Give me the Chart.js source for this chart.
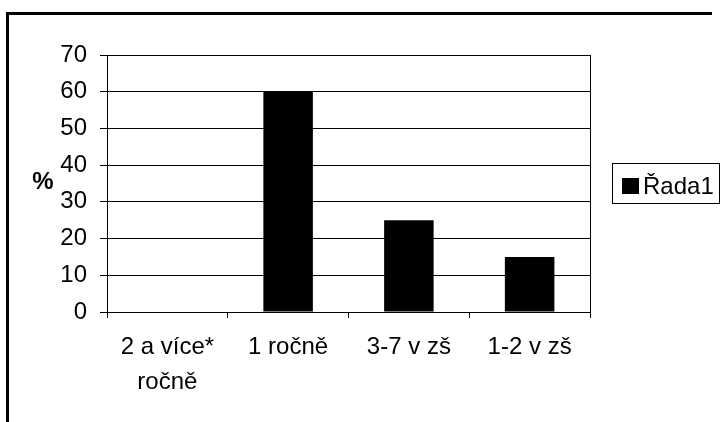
<!DOCTYPE html>
<html>
<head>
<meta charset="utf-8">
<script src="https://cdn.jsdelivr.net/npm/chart.js@4"></script>
<style>
  html, body { margin: 0; padding: 0; background: #fff; }
  #wrap { width: 725px; height: 422px; position: relative; }
</style>
</head>
<body>
<div id="wrap"><canvas id="chart" width="725" height="422"></canvas></div>
<script>
const categories = [['2 a více*', 'ročně'], '1 ročně', '3-7 v zš', '1-2 v zš'];
const values = [0, 60, 25, 15];
const seriesName = 'Řada1';
const yTicks = [0, 10, 20, 30, 40, 50, 60, 70];

const FONT = '"Liberation Sans", Arial, sans-serif';

// frame, % label, right plot edge and the boxed legend
const extras = {
  id: 'extras',
  beforeDraw(chart) {
    const ctx = chart.ctx;
    ctx.save();
    ctx.strokeStyle = '#000';
    ctx.lineWidth = 3;
    ctx.beginPath();
    ctx.moveTo(7.5, 422);
    ctx.lineTo(7.5, 13.5);
    ctx.lineTo(712, 13.5);
    ctx.stroke();
    ctx.restore();
  },
  afterDraw(chart) {
    const ctx = chart.ctx;
    const a = chart.chartArea;
    ctx.save();
    ctx.strokeStyle = '#000';
    ctx.lineWidth = 1;
    ctx.beginPath();
    ctx.moveTo(a.right + 0.5, a.top);
    ctx.lineTo(a.right + 0.5, a.bottom);
    ctx.stroke();

    ctx.fillStyle = '#000';
    ctx.font = 'bold 24px ' + FONT;
    ctx.textAlign = 'center';
    ctx.textBaseline = 'middle';
    ctx.fillText('%', 43, 182);

    // legend
    ctx.lineWidth = 1;
    ctx.strokeRect(612.5, 163.5, 107, 40);
    ctx.fillRect(622, 178, 17, 16);
    ctx.font = '24px ' + FONT;
    ctx.textAlign = 'left';
    ctx.textBaseline = 'alphabetic';
    ctx.fillText(chart.data.datasets[0].label, 643, 194);
    ctx.restore();
  }
};

new Chart(document.getElementById('chart').getContext('2d'), {
  type: 'bar',
  data: {
    labels: categories,
    datasets: [{
      label: seriesName,
      data: values,
      backgroundColor: '#000',
      borderWidth: 0,
      barPercentage: 0.41,
      categoryPercentage: 1
    }]
  },
  options: {
    responsive: false,
    animation: false,
    layout: { padding: { left: 0, top: 55, right: 135, bottom: 0 } },
    plugins: {
      legend: { display: false },
      tooltip: { enabled: false }
    },
    scales: {
      x: {
        offset: true,
        border: { display: true, color: '#000', width: 1 },
        grid: {
          offset: true,
          drawOnChartArea: false,
          tickLength: 6,
          tickColor: '#000'
        },
        ticks: {
          color: '#000',
          padding: 12,
          maxRotation: 0,
          autoSkip: false,
          font: { family: FONT, size: 24, lineHeight: 1.45 }
        },
        afterFit(scale) { scale.height = 110; }
      },
      y: {
        min: 0,
        max: 70,
        afterBuildTicks(scale) { scale.ticks = yTicks.map(v => ({ value: v })); },
        border: { display: true, color: '#000', width: 1 },
        grid: { color: '#000', tickLength: 7, tickColor: '#000' },
        ticks: {
          color: '#000',
          padding: 13,
          font: { family: FONT, size: 24 }
        },
        afterFit(scale) { scale.width = 107; }
      }
    }
  },
  plugins: [extras]
});
</script>
</body>
</html>
